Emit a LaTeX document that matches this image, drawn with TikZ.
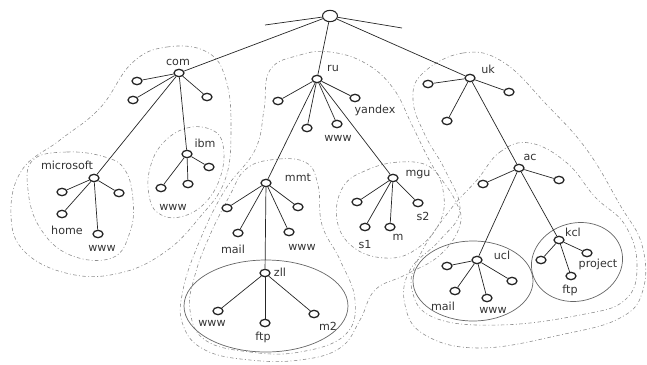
\documentclass[tikz,border=0pt]{standalone}
\usepackage{fontspec}
\newfontfamily\lblfont{DejaVu Sans}
\usetikzlibrary{shapes.geometric}

\begin{document}
\begin{tikzpicture}[x=0.03cm, y=-0.03cm,
  dot/.style={draw=black!85, line width=1.1pt, fill=white, ellipse, inner sep=0pt, minimum width=0.3cm, minimum height=0.22cm},
  rootdot/.style={dot, line width=0.9pt, minimum width=0.45cm, minimum height=0.34cm},
  lbl/.style={font=\lblfont\fontsize{9.5}{11}\selectfont, text=black!80, inner sep=0pt},
  link/.style={draw=black!85, line width=0.6pt},
  zone/.style={draw=black!45, line width=0.5pt, dash pattern=on 3pt off 2pt on 0.8pt off 2pt},
  subzone/.style={draw=black!60, line width=0.6pt}]
  \useasboundingbox (0,0) rectangle (647,364);

  % Zones
  \draw[zone] plot[smooth cycle, tension=0.7] coordinates {(132,63) (167,47) (207,52) (226,80) (231,130) (225,180) (200,217) (165,252) (120,273) (70,274) (25,252) (11,215) (22,170) (60,140) (100,108)};
  \draw[zone] plot[smooth cycle, tension=0.7] coordinates {(33,160) (67,152) (105,157) (125,170) (133,200) (130,232) (112,258) (70,255) (40,228) (28,190)};
  \draw[zone] plot[smooth cycle, tension=0.7] coordinates {(163,143) (187,128) (212,130) (223,145) (221,175) (205,203) (180,217) (158,213) (149,195) (150,168)};
  \draw[zone] plot[smooth cycle, tension=0.7] coordinates {(270,70) (300,55) (330,52) (365,63) (393,88) (412,125) (432,165) (455,200) (460,225) (440,255) (405,275) (375,290) (360,320) (340,348) (300,360) (250,360) (205,350) (183,325) (183,290) (200,240) (225,190) (255,150) (264,110)};
  \draw[zone] plot[smooth cycle, tension=0.7] coordinates {(245,170) (270,160) (305,162) (318,185) (322,225) (340,260) (355,300) (345,335) (300,352) (250,352) (205,340) (190,310) (195,275) (210,235) (230,195)};
  \draw[zone] plot[smooth cycle, tension=0.7] coordinates {(343,187) (367,170) (400,162) (430,167) (443,190) (440,222) (415,250) (385,258) (353,247) (337,220)};
  \draw[zone] plot[smooth cycle, tension=0.7] coordinates {(423,73) (463,53) (503,62) (547,105) (587,150) (620,205) (642,245) (643,290) (620,318) (560,335) (480,348) (425,335) (405,305) (410,270) (440,240) (460,210) (445,170) (425,135) (413,100)};
  \draw[zone] plot[smooth cycle, tension=0.7] coordinates {(477,180) (500,152) (530,143) (567,163) (595,197) (625,225) (637,265) (625,300) (580,315) (500,325) (435,318) (412,290) (420,255) (450,210)};
  \draw[subzone] (266,306) ellipse [x radius=82, y radius=46];
  \draw[subzone] (473,281) ellipse [x radius=60, y radius=40];
  \draw[subzone, rotate around={15:(577,262)}] (577,262) ellipse [x radius=46, y radius=39];

  % Root
  \node[rootdot] (root) at (330,16) {};
  \coordinate (stubL) at (265,25);
  \coordinate (stubR) at (402,28);

  % com
  \node[dot] (com) at (179,73) {};
  \node[lbl] (comL) at (178,62) {com};
  \node[dot] (com1) at (137,81) {};
  \node[dot] (com2) at (133,100) {};
  \node[dot] (com3) at (207,97) {};
  \node[dot] (ibm) at (187,154) {};
  \node[lbl] (ibmL) at (205,143) {ibm};
  \node[dot] (ibm1) at (161,188) {};
  \node[dot] (ibm2) at (188,184) {};
  \node[dot] (ibm3) at (209,167) {};
  \node[lbl] (ibmwwwL) at (173,207) {www};
  \node[dot] (msoft) at (94,178) {};
  \node[lbl] (msoftL) at (67,165) {microsoft};
  \node[dot] (ms1) at (62,192) {};
  \node[dot] (ms2) at (119,193) {};
  \node[dot] (mshome) at (62,214) {};
  \node[lbl] (mshomeL) at (67,230) {home};
  \node[dot] (mswww) at (98,234) {};
  \node[lbl] (mswwwL) at (102,248) {www};

  % ru
  \node[dot] (ru) at (317,79) {};
  \node[lbl] (ruL) at (333,68) {ru};
  \node[dot] (ru1) at (278,101) {};
  \node[dot] (ru2) at (307,128) {};
  \node[dot] (ruwww) at (337,124) {};
  \node[lbl] (ruwwwL) at (338,138) {www};
  \node[dot] (yandex) at (355,98) {};
  \node[lbl] (yandexL) at (375,110) {yandex};
  \node[dot] (mmt) at (266,183) {};
  \node[lbl] (mmtL) at (298,178) {mmt};
  \node[dot] (mmt1) at (227,208) {};
  \node[dot] (mmtmail) at (238,233) {};
  \node[lbl] (mmtmailL) at (233,249) {mail};
  \node[dot] (mmt3) at (298,207) {};
  \node[dot] (mmtwww) at (289,232) {};
  \node[lbl] (mmtwwwL) at (302,247) {www};
  \node[dot] (zll) at (265,273) {};
  \node[lbl] (zllL) at (280,272) {zll};
  \node[dot] (zllwww) at (218,311) {};
  \node[lbl] (zllwwwL) at (212,323) {www};
  \node[dot] (zllftp) at (265,323) {};
  \node[lbl] (zllftpL) at (263,337) {ftp};
  \node[dot] (zllm2) at (314,314) {};
  \node[lbl] (zllm2L) at (328,326) {m2};
  \node[dot] (mgu) at (393,178) {};
  \node[lbl] (mguL) at (418,175) {mgu};
  \node[dot] (mgu1) at (357,202) {};
  \node[dot] (mgus1) at (365,227) {};
  \node[lbl] (mgus1L) at (365,245) {s1};
  \node[dot] (mgum) at (390,227) {};
  \node[lbl] (mgumL) at (398,237) {m};
  \node[dot] (mgus2) at (418,203) {};
  \node[lbl] (mgus2L) at (423,216) {s2};

  % uk
  \node[dot] (uk) at (470,78) {};
  \node[lbl] (ukL) at (488,69) {uk};
  \node[dot] (uk1) at (428,84) {};
  \node[dot] (uk2) at (447,121) {};
  \node[dot] (uk3) at (509,92) {};
  \node[dot] (ac) at (519,168) {};
  \node[lbl] (acL) at (530,157) {ac};
  \node[dot] (ac1) at (483,184) {};
  \node[dot] (ac2) at (559,180) {};
  \node[dot] (ucl) at (477,260) {};
  \node[lbl] (uclL) at (502,255) {ucl};
  \node[dot] (ucl1) at (447,266) {};
  \node[dot] (uclmail) at (455,291) {};
  \node[lbl] (uclmailL) at (443,306) {mail};
  \node[dot] (uclwww) at (487,298) {};
  \node[lbl] (uclwwwL) at (493,310) {www};
  \node[dot] (ucl4) at (512,281) {};
  \node[dot] (kcl) at (559,240) {};
  \node[lbl] (kclL) at (573,232) {kcl};
  \node[dot] (kcl1) at (541,260) {};
  \node[dot] (kclproj) at (587,253) {};
  \node[lbl] (kclprojL) at (598,264) {project};
  \node[dot] (kclftp) at (571,276) {};
  \node[lbl] (kclftpL) at (570,290) {ftp};

  % Links
  \draw[link] (root) -- (stubL);
  \draw[link] (root) -- (stubR);
  \draw[link] (root) -- (com);
  \draw[link] (root) -- (ru);
  \draw[link] (root) -- (uk);
  \draw[link] (com) -- (com1);
  \draw[link] (com) -- (com2);
  \draw[link] (com) -- (com3);
  \draw[link] (com) -- (ibm);
  \draw[link] (com) -- (msoft);
  \draw[link] (ibm) -- (ibm1);
  \draw[link] (ibm) -- (ibm2);
  \draw[link] (ibm) -- (ibm3);
  \draw[link] (msoft) -- (ms1);
  \draw[link] (msoft) -- (ms2);
  \draw[link] (msoft) -- (mshome);
  \draw[link] (msoft) -- (mswww);
  \draw[link] (ru) -- (ru1);
  \draw[link] (ru) -- (ru2);
  \draw[link] (ru) -- (ruwww);
  \draw[link] (ru) -- (yandex);
  \draw[link] (ru) -- (mmt);
  \draw[link] (ru) -- (mgu);
  \draw[link] (mmt) -- (mmt1);
  \draw[link] (mmt) -- (mmtmail);
  \draw[link] (mmt) -- (mmt3);
  \draw[link] (mmt) -- (mmtwww);
  \draw[link] (mmt) -- (zll);
  \draw[link] (zll) -- (zllwww);
  \draw[link] (zll) -- (zllftp);
  \draw[link] (zll) -- (zllm2);
  \draw[link] (mgu) -- (mgu1);
  \draw[link] (mgu) -- (mgus1);
  \draw[link] (mgu) -- (mgum);
  \draw[link] (mgu) -- (mgus2);
  \draw[link] (uk) -- (uk1);
  \draw[link] (uk) -- (uk2);
  \draw[link] (uk) -- (uk3);
  \draw[link] (uk) -- (ac);
  \draw[link] (ac) -- (ac1);
  \draw[link] (ac) -- (ac2);
  \draw[link] (ac) -- (ucl);
  \draw[link] (ac) -- (kcl);
  \draw[link] (ucl) -- (ucl1);
  \draw[link] (ucl) -- (uclmail);
  \draw[link] (ucl) -- (uclwww);
  \draw[link] (ucl) -- (ucl4);
  \draw[link] (kcl) -- (kcl1);
  \draw[link] (kcl) -- (kclproj);
  \draw[link] (kcl) -- (kclftp);
\end{tikzpicture}
\end{document}
